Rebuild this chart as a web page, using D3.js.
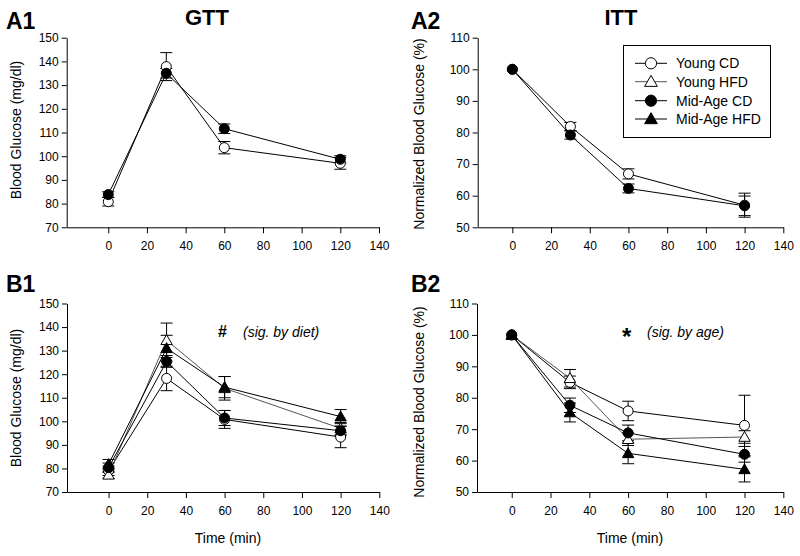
<!DOCTYPE html>
<html>
<head>
<meta charset="utf-8">
<script src="https://cdn.jsdelivr.net/npm/d3@7"></script>
<style>
  body { margin: 0; background: #fff; }
  svg { display: block; }
  text { font-family: "Liberation Sans", Arial, sans-serif; fill: #000; }
</style>
</head>
<body>
<svg id="chart" width="800" height="556"></svg>
<script>
// ---------------- DATA ----------------
const times = [0, 30, 60, 120];
const xTicks = [0, 20, 40, 60, 80, 100, 120, 140];
const gttTicks = [70, 80, 90, 100, 110, 120, 130, 140, 150];
const ittTicks = [50, 60, 70, 80, 90, 100, 110];
const seriesNames = ["Young CD", "Young HFD", "Mid-Age CD", "Mid-Age HFD"];

// A1 - GTT (Young vs Mid-Age)
const a1YoungMean = [80.8, 137.8, 103.6, 97.0];
const a1YoungErr  = [1.8, 5.9, 2.6, 2.5];
const a1MidMean   = [83.8, 135.0, 111.6, 98.7];
const a1MidErr    = [1.2, 2.0, 2.0, 1.5];

// A2 - ITT (Young vs Mid-Age)
const a2YoungMean = [100, 81.9, 66.9, 57.0];
const a2YoungErr  = [0, 1.3, 1.6, 3.8];
const a2MidMean   = [100, 79.2, 62.3, 56.8];
const a2MidErr    = [0, 1.3, 1.4, 3.1];

// B1 - GTT by group
const b1YoungCDMean  = [79.0, 118.2, 100.8, 93.3];
const b1YoungCDErr   = [2.0, 5.2, 3.8, 4.5];
const b1YoungHFDMean = [77.3, 134.4, 114.0, 97.0];
const b1YoungHFDErr  = [1.5, 7.3, 5.0, 2.5];
const b1MidCDMean    = [80.3, 125.4, 101.4, 96.0];
const b1MidCDErr     = [2.0, 2.5, 3.2, 2.0];
const b1MidHFDMean   = [81.8, 131.0, 114.5, 102.0];
const b1MidHFDErr    = [2.0, 5.5, 4.5, 3.0];

// B2 - ITT by group
const b2YoungCDMean  = [100, 84.9, 75.8, 71.2];
const b2YoungCDErr   = [0, 2.0, 3.1, 9.6];
const b2YoungHFDMean = [100, 86.2, 66.8, 67.5];
const b2YoungHFDErr  = [0, 2.8, 2.0, 2.0];
const b2MidCDMean    = [100, 77.6, 68.8, 62.0];
const b2MidCDErr     = [0, 2.3, 2.5, 2.5];
const b2MidHFDMean   = [100, 75.3, 62.3, 57.2];
const b2MidHFDErr    = [0, 3.0, 3.3, 4.0];

// ---------------- DRAW ----------------
const svg = d3.select("#chart");
const FONT = '"Liberation Sans", Arial, sans-serif';

// marker styles: circle/triangle, filled or open
const styles = {
  "Young CD":    {shape: "circle",   fill: "#fff", line: "#000"},
  "Young HFD":   {shape: "triangle", fill: "#fff", line: "#555"},
  "Mid-Age CD":  {shape: "circle",   fill: "#000", line: "#000"},
  "Mid-Age HFD": {shape: "triangle", fill: "#000", line: "#000"}
};

function drawMarker(g, name, cx, cy, scale) {
  const st = styles[name];
  const s = scale || 1;
  if (st.shape === "circle") {
    g.append("circle").attr("cx", cx).attr("cy", cy).attr("r", 5 * s)
      .attr("fill", st.fill).attr("stroke", "#000").attr("stroke-width", 1);
  } else {
    g.append("path").attr("d", d3.symbol().type(d3.symbolTriangle).size(56 * s * s)())
      .attr("transform", `translate(${cx},${cy + 1})`)
      .attr("fill", st.fill).attr("stroke", "#000").attr("stroke-width", 1);
  }
}

function panel(cfg) {
  const x = d3.scaleLinear().domain(cfg.xDomain).range(cfg.xRange);
  const y = d3.scaleLinear().domain(cfg.yDomain).range(cfg.yRange);
  const g = svg.append("g");

  // axes
  const xa = g.append("g").attr("transform", `translate(0,${cfg.yRange[0]})`)
    .call(d3.axisBottom(x).tickValues(xTicks).tickSize(6).tickSizeOuter(0).tickPadding(8));
  const ya = g.append("g").attr("transform", `translate(${cfg.xRange[0]},0)`)
    .call(d3.axisLeft(y).tickValues(cfg.yTicks).tickSize(5).tickSizeOuter(0).tickPadding(3));
  [xa, ya].forEach(a => {
    a.selectAll("text").style("font-size", "12px").style("font-family", FONT).attr("fill", "#000");
    a.selectAll("path, line").attr("stroke", "#000").attr("stroke-width", 1);
  });

  // y title
  g.append("text")
    .attr("transform", `translate(${cfg.yTitleX},${cfg.yTitleY}) rotate(-90)`)
    .attr("text-anchor", "middle").style("font-size", "14px").text(cfg.yTitle);
  if (cfg.xTitle) {
    g.append("text").attr("x", cfg.xTitleX).attr("y", cfg.xTitleY)
      .attr("text-anchor", "middle").style("font-size", "14px").text(cfg.xTitle);
  }

  const line = d3.line().x((d, i) => x(times[i])).y(d => y(d));
  // lines
  cfg.series.forEach(s => {
    g.append("path").attr("d", line(s.mean)).attr("fill", "none")
      .attr("stroke", styles[s.name].line).attr("stroke-width", 1);
  });
  // error bars
  cfg.series.forEach(s => {
    s.mean.forEach((m, i) => {
      const e = s.err[i];
      if (!e) return;
      const cx = x(times[i]);
      const y1 = y(m - e), y2 = y(m + e);
      g.append("line").attr("x1", cx).attr("x2", cx).attr("y1", y1).attr("y2", y2)
        .attr("stroke", "#000").attr("stroke-width", 1);
      [y1, y2].forEach(yy => g.append("line").attr("x1", cx - 6).attr("x2", cx + 6)
        .attr("y1", yy).attr("y2", yy).attr("stroke", "#000").attr("stroke-width", 1));
    });
  });
  // markers
  cfg.series.forEach(s => {
    s.mean.forEach((m, i) => drawMarker(g, s.name, x(times[i]), y(m)));
  });
  return {x, y, g};
}

// A1
panel({
  xDomain: [-21.5, 140], xRange: [66.7, 379],
  yDomain: [70, 150], yRange: [227.3, 37.7], yTicks: gttTicks,
  yTitle: "Blood Glucose (mg/dl)", yTitleX: 21, yTitleY: 130,
  series: [
    {name: "Young CD", mean: a1YoungMean, err: a1YoungErr},
    {name: "Mid-Age CD", mean: a1MidMean, err: a1MidErr}
  ]
});
// A2
panel({
  xDomain: [-17.9, 140], xRange: [477.7, 783.3],
  yDomain: [50, 110], yRange: [227.3, 37.7], yTicks: ittTicks,
  yTitle: "Normalized Blood Glucose (%)", yTitleX: 424, yTitleY: 134,
  series: [
    {name: "Young CD", mean: a2YoungMean, err: a2YoungErr},
    {name: "Mid-Age CD", mean: a2MidMean, err: a2MidErr}
  ]
});
// B1
panel({
  xDomain: [-21.5, 140], xRange: [67, 379.3],
  yDomain: [70, 150], yRange: [492, 303.5], yTicks: gttTicks,
  yTitle: "Blood Glucose (mg/dl)", yTitleX: 21, yTitleY: 398,
  xTitle: "Time (min)", xTitleX: 228, xTitleY: 543,
  series: [
    {name: "Young CD", mean: b1YoungCDMean, err: b1YoungCDErr},
    {name: "Young HFD", mean: b1YoungHFDMean, err: b1YoungHFDErr},
    {name: "Mid-Age CD", mean: b1MidCDMean, err: b1MidCDErr},
    {name: "Mid-Age HFD", mean: b1MidHFDMean, err: b1MidHFDErr}
  ]
});
// B2
panel({
  xDomain: [-17.9, 140], xRange: [477, 783.3],
  yDomain: [50, 110], yRange: [492, 303.5], yTicks: ittTicks,
  yTitle: "Normalized Blood Glucose (%)", yTitleX: 424, yTitleY: 402,
  xTitle: "Time (min)", xTitleX: 630, xTitleY: 543,
  series: [
    {name: "Young CD", mean: b2YoungCDMean, err: b2YoungCDErr},
    {name: "Young HFD", mean: b2YoungHFDMean, err: b2YoungHFDErr},
    {name: "Mid-Age CD", mean: b2MidCDMean, err: b2MidCDErr},
    {name: "Mid-Age HFD", mean: b2MidHFDMean, err: b2MidHFDErr}
  ]
});

// panel labels & titles
const bold = (t, x, y, size, anchor) => svg.append("text").attr("x", x).attr("y", y)
  .attr("text-anchor", anchor || "start").style("font-size", size + "px")
  .style("font-weight", "bold").text(t);
bold("A1", 6, 29, 23);
bold("A2", 411, 29, 23);
bold("B1", 6, 292, 23);
bold("B2", 411, 292, 23);
bold("GTT", 207, 25, 22, "middle");
bold("ITT", 621, 25, 22, "middle");

// annotations
bold("#", 218, 337, 16);
svg.append("text").attr("x", 243).attr("y", 337).style("font-size", "14px")
  .style("font-style", "italic").text("(sig. by diet)");
bold("*", 622, 345, 24);
svg.append("text").attr("x", 647).attr("y", 337).style("font-size", "14px")
  .style("font-style", "italic").text("(sig. by age)");

// legend
const lg = svg.append("g");
lg.append("rect").attr("x", 623.5).attr("y", 45.5).attr("width", 147).attr("height", 92)
  .attr("fill", "#fff").attr("stroke", "#000").attr("stroke-width", 1);
const rowY = [63.3, 81.7, 100.7, 119];
seriesNames.forEach((n, i) => {
  lg.append("line").attr("x1", 635).attr("x2", 667).attr("y1", rowY[i]).attr("y2", rowY[i])
    .attr("stroke", styles[n].line).attr("stroke-width", 1);
  drawMarker(lg, n, 651, rowY[i], 1.12);
  lg.append("text").attr("x", 676).attr("y", rowY[i]).attr("dy", "0.36em")
    .style("font-size", "14px").text(n);
});
</script>
</body>
</html>
